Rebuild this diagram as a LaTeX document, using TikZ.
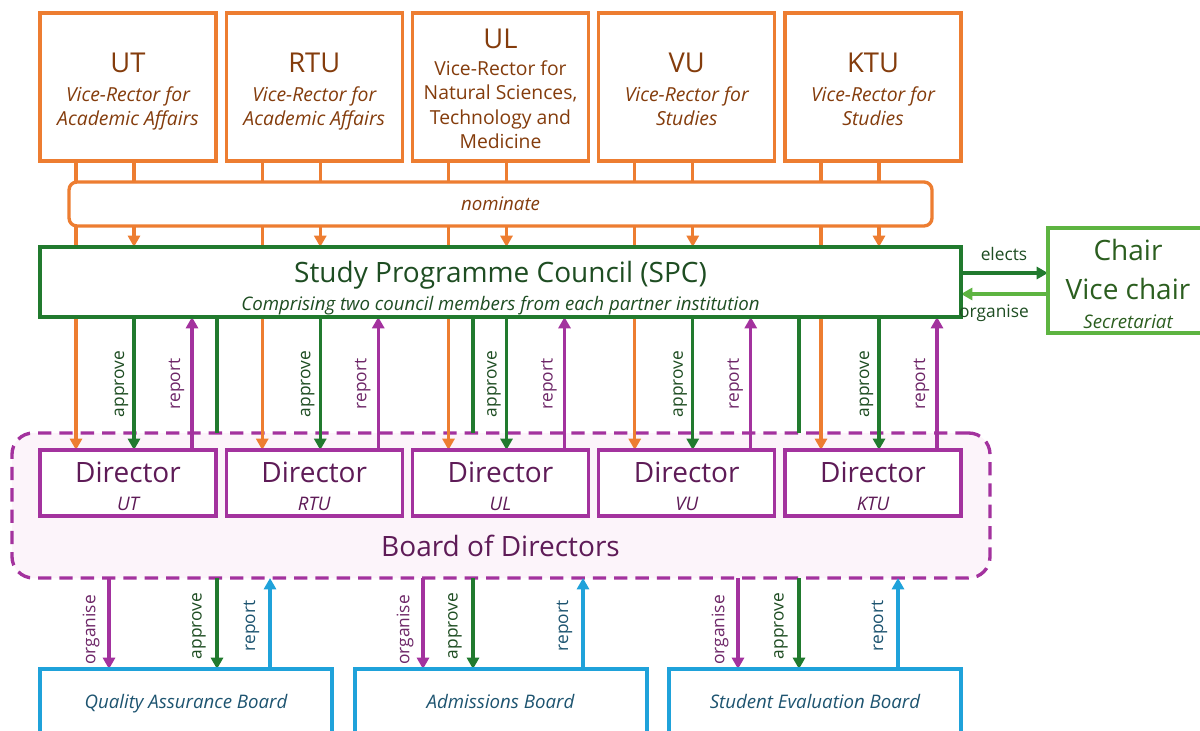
\documentclass[tikz,border=0pt]{standalone}
\usepackage{fontspec}
\setmainfont{Open Sans}
\usetikzlibrary{arrows.meta,calc}
\definecolor{orng}{HTML}{ED7D31}
\definecolor{brwn}{HTML}{843C0C}
\definecolor{dgrn}{HTML}{217A2E}
\definecolor{dgrntxt}{HTML}{1E4D22}
\definecolor{lgrn}{HTML}{5DB441}
\definecolor{lgrntxt}{HTML}{2B5E1F}
\definecolor{purp}{HTML}{A3329E}
\definecolor{purptxt}{HTML}{5E1B57}
\definecolor{purplbl}{HTML}{6E2768}
\definecolor{pinkbg}{HTML}{FCF4FA}
\definecolor{blu}{HTML}{1FA2DA}
\definecolor{blutxt}{HTML}{1D5470}
\pgfdeclarelayer{bgboard}
\pgfdeclarelayer{bglines}
\pgfsetlayers{bgboard,bglines,main}
\begin{document}
\begin{tikzpicture}[x=0.75pt,y=-0.75pt,
  >={Triangle[width=9pt,length=8.5pt]},
  box/.style={draw, line width=2.5pt, fill=white, inner sep=0pt, outer sep=0pt, anchor=north west},
  topbox/.style={box, draw=orng, minimum width=132pt, minimum height=111pt},
  dirbox/.style={box, draw=purp, minimum width=132pt, minimum height=49.5pt},
  botbox/.style={box, draw=blu, minimum width=219pt, minimum height=51pt},
  conn/.style={line width=2.3pt},
  txt/.style={anchor=base, inner sep=0pt},
  big/.style={txt, font=\fontsize{21}{24}\selectfont},
  ttl/.style={txt, font=\fontsize{20.5}{24}\selectfont, text=brwn},
  sub/.style={txt, font=\itshape\fontsize{14.5}{18}\selectfont, text=brwn},
  subup/.style={txt, font=\fontsize{14.5}{18}\selectfont, text=brwn},
  midit/.style={txt, font=\itshape\fontsize{14}{18}\selectfont},
  lbl/.style={font=\fontsize{13}{15}\selectfont, rotate=90, inner sep=0pt, anchor=center},
  hlbl/.style={txt, font=\fontsize{13}{15}\selectfont},
]
\useasboundingbox (0,0) rectangle (1200,731);
\clip (0,0) rectangle (1200,731);

% ---------- top boxes ----------
\node[topbox] (t1) at (40,13) {};
\node[topbox] (t2) at (226.25,13) {};
\node[topbox] (t3) at (412.5,13) {};
\node[topbox] (t4) at (598.75,13) {};
\node[topbox] (t5) at (785,13) {};

\node[ttl] (t1a) at (128,73) {UT};
\node[sub] (t1b) at (128,102) {Vice-Rector for};
\node[sub] (t1c) at (128,126) {Academic Affairs};

\node[ttl] (t2a) at (314.25,73) {RTU};
\node[sub] (t2b) at (314.25,102) {Vice-Rector for};
\node[sub] (t2c) at (314.25,126) {Academic Affairs};

\node[ttl] (t3a) at (500.5,49) {UL};
\node[subup] (t3b) at (500.5,76) {Vice-Rector for};
\node[subup] (t3c) at (500.5,100) {Natural Sciences,};
\node[subup] (t3d) at (500.5,124.5) {Technology and};
\node[subup] (t3e) at (500.5,149) {Medicine};

\node[ttl] (t4a) at (686.75,73) {VU};
\node[sub] (t4b) at (686.75,102) {Vice-Rector for};
\node[sub] (t4c) at (686.75,126) {Studies};

\node[ttl] (t5a) at (873,73) {KTU};
\node[sub] (t5b) at (873,102) {Vice-Rector for};
\node[sub] (t5c) at (873,126) {Studies};

% ---------- nominate ----------
\node[box, draw=orng, rounded corners=6pt, minimum width=647.25pt, minimum height=33pt] (nom) at (69,182) {};
\node[midit, text=brwn] (nomt) at (500.5,210) {nominate};

% ---------- SPC ----------
\node[box, draw=dgrn, minimum width=690.75pt, minimum height=52.5pt] (spc) at (40,247) {};
\node[big, text=dgrntxt] (spca) at (500.5,282) {Study Programme Council (SPC)};
\node[midit, text=dgrntxt] (spcb) at (500.5,310) {Comprising two council members from each partner institution};

% ---------- Chair ----------
\node[box, draw=lgrn, minimum width=120pt, minimum height=78.75pt] (chair) at (1048,228) {};
\node[big, text=lgrntxt] (cha) at (1128,260) {Chair};
\node[big, text=lgrntxt] (chb) at (1128,299) {Vice chair};
\node[midit, text=lgrntxt] (chc) at (1128,328) {Secretariat};

% ---------- Board of directors ----------
\begin{pgfonlayer}{bgboard}
\fill[white] (0,0) rectangle (1200,731);
\node[draw=purp, fill=pinkbg, line width=2.5pt, dash pattern=on 10pt off 6pt,
      rounded corners=16pt, minimum width=733.5pt, minimum height=108.75pt,
      anchor=north west, inner sep=0pt, outer sep=0pt] (board) at (12,433) {};
\end{pgfonlayer}
\node[big, text=purptxt] (boardt) at (500.5,556) {Board of Directors};

\node[dirbox] (d1) at (40,450) {};
\node[dirbox] (d2) at (226.25,450) {};
\node[dirbox] (d3) at (412.5,450) {};
\node[dirbox] (d4) at (598.75,450) {};
\node[dirbox] (d5) at (785,450) {};
\node[big, text=purptxt] (d1a) at (128,482) {Director};
\node[midit, text=purptxt] (d1b) at (128,510) {UT};
\node[big, text=purptxt] (d2a) at (314.25,482) {Director};
\node[midit, text=purptxt] (d2b) at (314.25,510) {RTU};
\node[big, text=purptxt] (d3a) at (500.5,482) {Director};
\node[midit, text=purptxt] (d3b) at (500.5,510) {UL};
\node[big, text=purptxt] (d4a) at (686.75,482) {Director};
\node[midit, text=purptxt] (d4b) at (686.75,510) {VU};
\node[big, text=purptxt] (d5a) at (873,482) {Director};
\node[midit, text=purptxt] (d5b) at (873,510) {KTU};

% ---------- bottom boards ----------
\node[botbox] (qa) at (40,669) {};
\node[botbox] (adm) at (355,669) {};
\node[botbox] (se) at (669,669) {};
\node[midit, text=blutxt] (qat) at (186,708) {Quality Assurance Board};
\node[midit, text=blutxt] (admt) at (500.5,708) {Admissions Board};
\node[midit, text=blutxt] (set) at (815,708) {Student Evaluation Board};

% ---------- connectors ----------
\begin{pgfonlayer}{bglines}
\foreach \n in {1,...,5}{
  \coordinate (o\n) at ($(t\n.south west)+(36,0)$);
  \coordinate (n\n) at ($(t\n.south west)+(94,0)$);
  \coordinate (r\n) at ($(t\n.south west)+(152,0)$);
  \draw[conn,orng,->] (o\n) -- (o\n |- d\n.north);
  \draw[conn,orng,->] (n\n) -- (n\n |- spc.north);
  \draw[conn,dgrn,->] (n\n |- spc.south) -- (n\n |- d\n.north);
  \draw[conn,purp,->] (r\n |- d\n.north) -- (r\n |- spc.south);
}
% SPC to board of directors and on to boards
\coordinate (g1) at (217,0);
\coordinate (g2) at (473,0);
\coordinate (g3) at (799,0);
\coordinate (q1) at (109,0);
\coordinate (q2) at (423,0);
\coordinate (q3) at (738,0);
\coordinate (p1) at (270,0);
\coordinate (p2) at (583,0);
\coordinate (p3) at (898,0);
\draw[conn,dgrn] (g1 |- spc.south) -- (g1 |- board.north);
\draw[conn,dgrn] (g2 |- spc.south) -- (g2 |- board.north);
\draw[conn,dgrn] (g3 |- spc.south) -- (g3 |- board.north);
\draw[conn,dgrn,->] (g1 |- board.south) -- (g1 |- qa.north);
\draw[conn,dgrn,->] (g2 |- board.south) -- (g2 |- adm.north);
\draw[conn,dgrn,->] (g3 |- board.south) -- (g3 |- se.north);
\draw[conn,purp,->] (q1 |- board.south) -- (q1 |- qa.north);
\draw[conn,purp,->] (q2 |- board.south) -- (q2 |- adm.north);
\draw[conn,purp,->] (q3 |- board.south) -- (q3 |- se.north);
\draw[conn,blu,->] (p1 |- qa.north) -- (p1 |- board.south);
\draw[conn,blu,->] (p2 |- adm.north) -- (p2 |- board.south);
\draw[conn,blu,->] (p3 |- se.north) -- (p3 |- board.south);
% elects / organise
\coordinate (ey) at (0,273);
\coordinate (oy) at (0,294);
\draw[conn,dgrn,->] (spc.east |- ey) -- (chair.west |- ey);
\draw[conn,lgrn,->] (chair.west |- oy) -- (spc.east |- oy);
\end{pgfonlayer}

% ---------- labels ----------
\foreach \n in {1,...,5}{
  \node[lbl,text=dgrntxt] (ap\n) at ($(n\n |- 0,384)+(-12.5,0)$) {approve};
  \node[lbl,text=purplbl] (rp\n) at ($(r\n |- 0,384)+(-15.5,0)$) {report};
}
\foreach \k in {1,2,3}{
  \node[lbl,text=purplbl] (bo\k) at ($(q\k |- 0,630)+(-18,0)$) {organise};
  \node[lbl,text=dgrntxt] (ba\k) at ($(g\k |- 0,626)+(-18,0)$) {approve};
  \node[lbl,text=blutxt] (br\k) at ($(p\k |- 0,626)+(-18.5,0)$) {report};
}
\node[hlbl,text=dgrntxt] (el) at (1004,260) {elects};
\node[hlbl,text=dgrntxt] (og) at (994,317) {organise};
\end{tikzpicture}
\end{document}
